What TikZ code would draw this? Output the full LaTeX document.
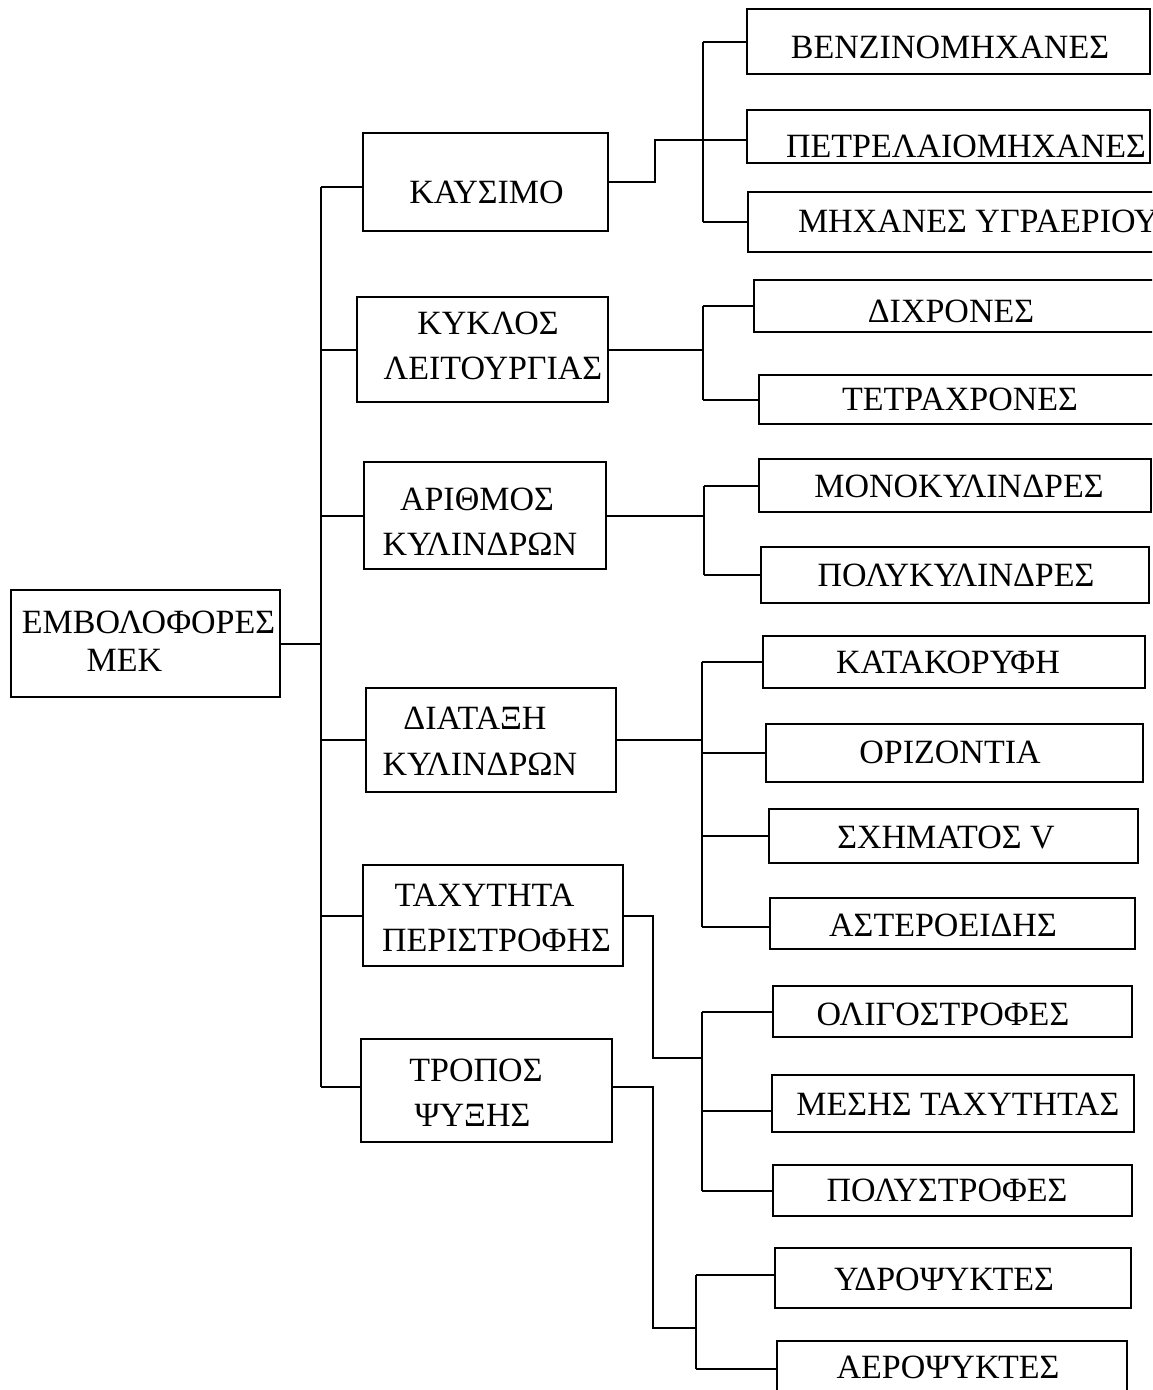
\documentclass[tikz,border=0pt]{standalone}
\usepackage{fontspec}
\setmainfont{Liberation Serif}

% box given by its corners (x1,y1) and (x2,y2), y growing downwards
\newcommand\mkbox[5]{%
  \pgfmathsetmacro\bxw{#4-#2}%
  \pgfmathsetmacro\bxh{#5-#3}%
  \node[bx, minimum width=\bxw pt, minimum height=\bxh pt] (#1) at ({(#2+#4)/2},{(#3+#5)/2}) {};}

\tikzset{
  bx/.style={draw, rectangle, line width=2pt, inner sep=0pt, outer sep=0pt},
  lbl/.style={inner sep=0pt, outer sep=0pt, font=\fontsize{34}{40}\selectfont,
              text height=22.3pt, text depth=0pt},
  wire/.style={line width=2pt},
}

\begin{document}
\begin{tikzpicture}[x=1pt, y=-1pt]
\fill[white] (0,0) rectangle (1152,1390);
\clip (0,0) rectangle (1152,1390);

% ---- root ----
\mkbox{root}{11}{590}{280}{697}
\node[lbl] (root-a) at (148.5,622.5) {ΕΜΒΟΛΟΦΟΡΕΣ};
\node[lbl] (root-b) at (124.5,660) {ΜΕΚ};

% ---- criteria ----
\mkbox{kaysimo}{363}{133}{608}{231}
\node[lbl] (kaysimo-a) at (486.5,192.5) {ΚΑΥΣΙΜΟ};

\mkbox{kyklos}{357}{297}{608}{402}
\node[lbl] (kyklos-a) at (488,323) {ΚΥΚΛΟΣ};
\node[lbl] (kyklos-b) at (493,368) {ΛΕΙΤΟΥΡΓΙΑΣ};

\mkbox{arithmos}{364}{462}{606}{569}
\node[lbl] (arithmos-a) at (477,499) {ΑΡΙΘΜΟΣ};
\node[lbl] (arithmos-b) at (480,544) {ΚΥΛΙΝΔΡΩΝ};

\mkbox{diataxi}{366}{688}{616}{792}
\node[lbl] (diataxi-a) at (475,718.5) {ΔΙΑΤΑΞΗ};
\node[lbl] (diataxi-b) at (480,764.5) {ΚΥΛΙΝΔΡΩΝ};

\mkbox{taxytita}{363}{865}{623}{966}
\node[lbl] (taxytita-a) at (484.5,895.5) {ΤΑΧΥΤΗΤΑ};
\node[lbl] (taxytita-b) at (496.5,940) {ΠΕΡΙΣΤΡΟΦΗΣ};

\mkbox{tropos}{361}{1039}{612}{1142}
\node[lbl] (tropos-a) at (476,1070.5) {ΤΡΟΠΟΣ};
\node[lbl] (tropos-b) at (472.5,1115.5) {ΨΥΞΗΣ};

% ---- categories ----
\mkbox{benz}{747}{9}{1150}{74}
\node[lbl] (benz-a) at (950,47.5) {ΒΕΝΖΙΝΟΜΗΧΑΝΕΣ};
\mkbox{petr}{747}{110}{1150}{163}
\node[lbl] (petr-a) at (966,146) {ΠΕΤΡΕΛΑΙΟΜΗΧΑΝΕΣ};
\mkbox{ygr}{748}{192}{1175}{252}
\node[lbl, anchor=west] (ygr-a) at (798,221.5) {ΜΗΧΑΝΕΣ ΥΓΡΑΕΡΙΟΥ};

\mkbox{dixr}{754}{280}{1175}{332}
\node[lbl] (dixr-a) at (951,311) {ΔΙΧΡΟΝΕΣ};
\mkbox{tetr}{759}{375}{1175}{424}
\node[lbl] (tetr-a) at (960,399) {ΤΕΤΡΑΧΡΟΝΕΣ};

\mkbox{mono}{759}{459}{1151}{512}
\node[lbl] (mono-a) at (959,486) {ΜΟΝΟΚΥΛΙΝΔΡΕΣ};
\mkbox{polyk}{761}{547}{1149}{603}
\node[lbl] (polyk-a) at (956,575) {ΠΟΛΥΚΥΛΙΝΔΡΕΣ};

\mkbox{katak}{763}{636}{1145}{688}
\node[lbl] (katak-a) at (948,662) {ΚΑΤΑΚΟΡΥΦΗ};
\mkbox{oriz}{766}{724}{1143}{782}
\node[lbl] (oriz-a) at (950,752) {ΟΡΙΖΟΝΤΙΑ};
\mkbox{sxim}{769}{809}{1138}{863}
\node[lbl] (sxim-a) at (946,837) {ΣΧΗΜΑΤΟΣ V};
\mkbox{aster}{770}{898}{1135}{949}
\node[lbl] (aster-a) at (943,925) {ΑΣΤΕΡΟΕΙΔΗΣ};

\mkbox{olig}{773}{986}{1132}{1037}
\node[lbl] (olig-a) at (943,1014) {ΟΛΙΓΟΣΤΡΟΦΕΣ};
\mkbox{mesis}{772}{1075}{1134}{1132}
\node[lbl] (mesis-a) at (958,1104) {ΜΕΣΗΣ ΤΑΧΥΤΗΤΑΣ};
\mkbox{polys}{773}{1165}{1132}{1216}
\node[lbl] (polys-a) at (947,1190) {ΠΟΛΥΣΤΡΟΦΕΣ};

\mkbox{ydro}{775}{1248}{1131}{1308}
\node[lbl] (ydro-a) at (944,1279) {ΥΔΡΟΨΥΚΤΕΣ};
\mkbox{aero}{777}{1341}{1127}{1397}
\node[lbl] (aero-a) at (948,1367) {ΑΕΡΟΨΥΚΤΕΣ};

% ---- bus lines (x positions) ----
\coordinate (trunk) at (321,0);
\coordinate (elbowK) at (655,0);
\coordinate (busK) at (703,0);
\coordinate (busL) at (703,0);
\coordinate (busA) at (704,0);
\coordinate (busD) at (702,0);
\coordinate (drop) at (653,0);
\coordinate (jT) at (702,1058);
\coordinate (jP) at (696,1328);

% root to criteria
\draw[wire] (root.east) -- (root.east -| trunk);
\draw[wire] ([yshift=-5pt]kaysimo.west -| trunk) -- ([yshift=4pt]tropos.west -| trunk);
\draw[wire] ([yshift=-5pt]kaysimo.west -| trunk) -- ([yshift=-5pt]kaysimo.west);
\foreach \n in {kyklos, arithmos, diataxi, taxytita}
  \draw[wire] (\n.west -| trunk) -- (\n.west);
\draw[wire] ([yshift=4pt]tropos.west -| trunk) -- ([yshift=4pt]tropos.west);

% fuel
\draw[wire] (kaysimo.east) -- (kaysimo.east -| elbowK) |- ([yshift=-3.5pt]petr.west);
\draw[wire] (benz.west -| busK) -- (ygr.west -| busK);
\foreach \n in {benz, ygr}
  \draw[wire] (\n.west -| busK) -- (\n.west);

% cycle
\draw[wire] (kyklos.east) -- (kyklos.east -| busL);
\draw[wire] (dixr.west -| busL) -- (tetr.west -| busL);
\foreach \n in {dixr, tetr}
  \draw[wire] (\n.west -| busL) -- (\n.west);

% number of cylinders
\draw[wire] (arithmos.east) -- (arithmos.east -| busA);
\draw[wire] (mono.west -| busA) -- (polyk.west -| busA);
\foreach \n in {mono, polyk}
  \draw[wire] (\n.west -| busA) -- (\n.west);

% cylinder arrangement
\draw[wire] (diataxi.east) -- (diataxi.east -| busD);
\draw[wire] (katak.west -| busD) -- ([yshift=-3.5pt]aster.west -| busD);
\foreach \n in {katak, oriz, sxim}
  \draw[wire] (\n.west -| busD) -- (\n.west);
\draw[wire] ([yshift=-3.5pt]aster.west -| busD) -- ([yshift=-3.5pt]aster.west);

% rotational speed
\draw[wire] (taxytita.east) -- (taxytita.east -| drop) |- (jT);
\draw[wire] (olig.west -| jT) -- (polys.west -| jT);
\draw[wire] (olig.west -| jT) -- (olig.west);
\draw[wire] ([yshift=-7.5pt]mesis.west -| jT) -- ([yshift=-7.5pt]mesis.west);
\draw[wire] (polys.west -| jT) -- (polys.west);

% cooling
\draw[wire] ([yshift=3.5pt]tropos.east) -- ([yshift=3.5pt]tropos.east -| drop) |- (jP);
\draw[wire] ([yshift=3pt]ydro.west -| jP) -- (aero.west -| jP);
\draw[wire] ([yshift=3pt]ydro.west -| jP) -- ([yshift=3pt]ydro.west);
\draw[wire] (aero.west -| jP) -- (aero.west);
\end{tikzpicture}
\end{document}
